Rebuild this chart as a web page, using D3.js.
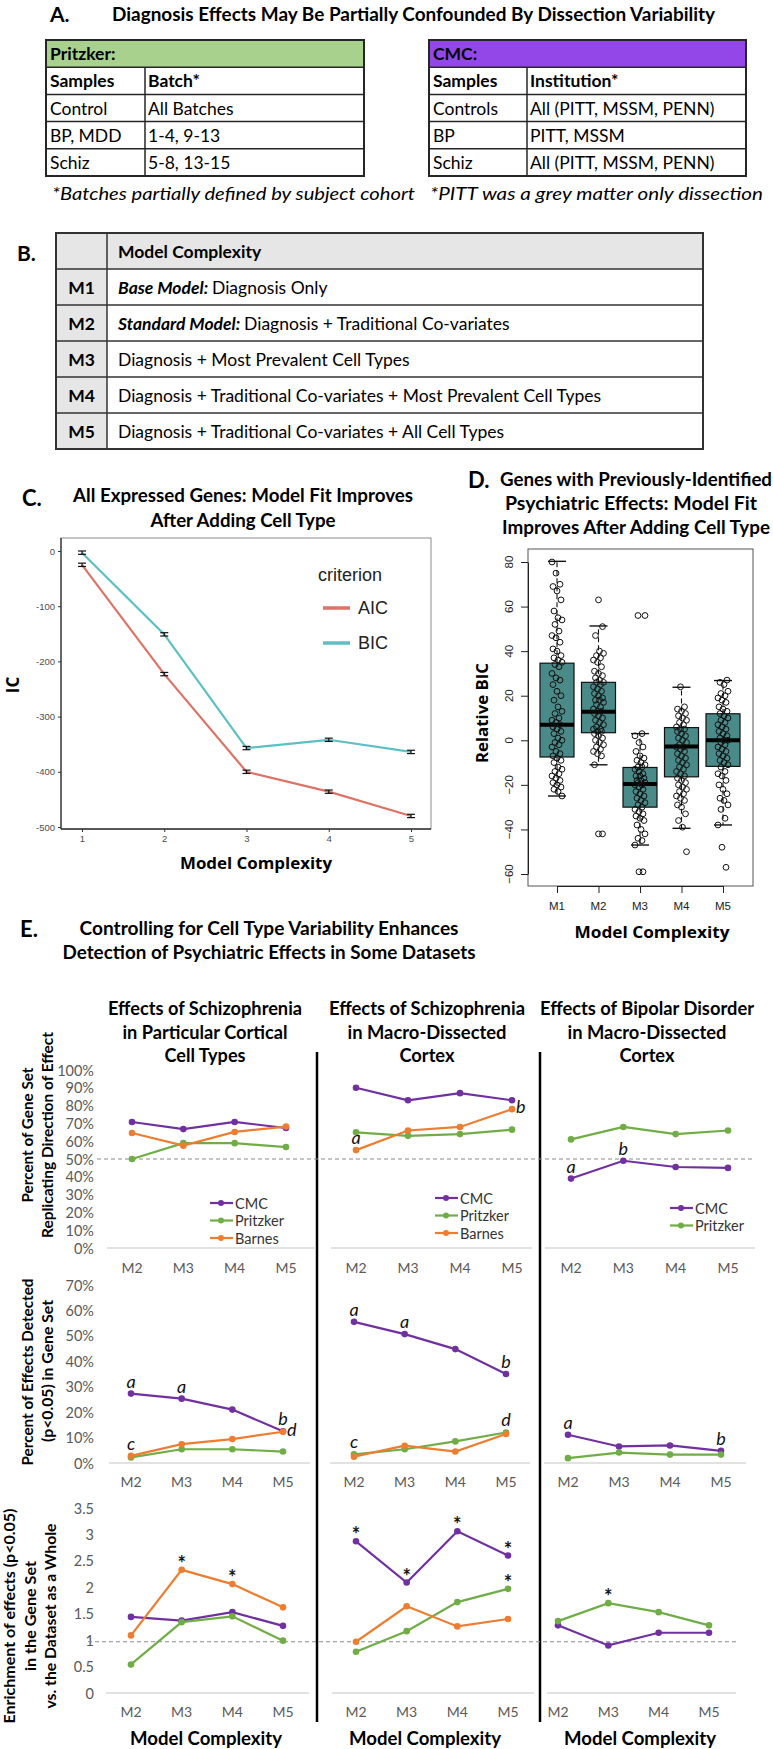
<!DOCTYPE html>
<html><head><meta charset="utf-8">
<script src="https://cdn.jsdelivr.net/npm/d3@7"></script>
<style>body{margin:0;background:#fff}svg{display:block}</style>
</head><body>
<script>
// ---------------- DATA ----------------
// Panel A
const pritzkerTitle = "Pritzker:";
const pritzkerCols = ["Samples", "Batch*"];
const pritzkerRows = [["Control", "All Batches"], ["BP, MDD", "1-4, 9-13"], ["Schiz", "5-8, 13-15"]];
const pritzkerNote = "*Batches partially defined by subject cohort";
const cmcTitle = "CMC:";
const cmcCols = ["Samples", "Institution*"];
const cmcRows = [["Controls", "All (PITT, MSSM, PENN)"], ["BP", "PITT, MSSM"], ["Schiz", "All (PITT, MSSM, PENN)"]];
const cmcNote = "*PITT was a grey matter only dissection";
// Panel B
const modelIds = ["M1", "M2", "M3", "M4", "M5"];
const modelPrefix = ["Base Model:", "Standard Model:", "", "", ""];
const modelDesc = ["Diagnosis Only", "Diagnosis + Traditional Co-variates", "Diagnosis + Most Prevalent Cell Types",
  "Diagnosis + Traditional Co-variates + Most Prevalent Cell Types", "Diagnosis + Traditional Co-variates + All Cell Types"];
// Panel C
const complexity = [1, 2, 3, 4, 5];
const aicValues = [-25, -223, -400, -436, -480];
const bicValues = [-3, -151, -357, -342, -364];
const icErr = [3, 3, 3, 3, 3];
const cYTicks = [0, -100, -200, -300, -400, -500];
// Panel D
const boxModels = ["M1", "M2", "M3", "M4", "M5"];
const boxLow = [-25, -11, -47, -39.5, -38];
const boxQ1 = [-7.5, 3.4, -30, -16.4, -11.7];
const boxMed = [7, 12.8, -19.6, -2.8, 0];
const boxQ3 = [34.6, 26, -12.2, 5.7, 11.9];
const boxHigh = [80.3, 51.3, 3, 23.8, 26.8];
const dYTicks = [-60, -40, -20, 0, 20, 40, 60, 80];
const pointsM1 = [80, 75, 70, 69, 67, 63, 58, 55, 54, 52, 49, 47, 46, 44, 41, 40, 38, 37, 36, 35, 34, 33, 30, 28, 27, 25, 22, 20, 18, 15, 13, 12, 10, 9, 8, 7, 6, 5, 4, 3, 1, 0, -1, -2, -3, -5, -6, -7, -8, -9, -10, -12, -13, -14, -15, -16, -17, -18, -19, -20, -21, -22, -23, -25];
const pointsM2 = [63, 51, 47, 40, 39, 38, 37, 36, 35, 33, 31, 30, 29, 28, 27, 26, 26, 25, 24, 23, 22, 21, 20, 19, 18, 18, 17, 16, 15, 14, 13, 13, 12, 11, 10, 9, 8, 7, 6, 5, 5, 4, 4, 3, 2, 1, 0, -1, -2, -3, -4, -5, -6, -7, -11, -42, -42];
const pointsM3 = [56, 56, 3, 2, -1, -3, -5, -7, -8, -9, -10, -11, -12, -12, -13, -14, -15, -16, -16, -17, -18, -18, -19, -19, -20, -20, -21, -22, -23, -24, -25, -26, -27, -28, -29, -30, -31, -32, -33, -34, -35, -36, -38, -40, -42, -44, -45, -47, -59, -59];
const pointsM4 = [24, 15, 14, 13, 12, 11, 10, 9, 8, 7, 6, 5, 5, 4, 3, 2, 1, 0, -1, -2, -3, -3, -4, -5, -6, -7, -8, -9, -10, -11, -12, -13, -14, -15, -16, -17, -18, -19, -20, -21, -22, -23, -24, -25, -26, -27, -29, -30, -33, -36, -39, -50];
const pointsM5 = [27, 26, 25, 22, 21, 20, 19, 18, 17, 15, 14, 13, 12, 11, 10, 9, 8, 7, 6, 5, 4, 3, 2, 1, 0, 0, -1, -2, -3, -4, -5, -6, -7, -8, -9, -10, -11, -12, -14, -15, -16, -18, -20, -22, -24, -26, -27, -29, -31, -35, -38, -48, -57];
// Panel E
const eModels = ["M2", "M3", "M4", "M5"];
const eColumnTitles = [["Effects of Schizophrenia", "in Particular Cortical", "Cell Types"],
  ["Effects of Schizophrenia", "in Macro-Dissected", "Cortex"],
  ["Effects of Bipolar Disorder", "in Macro-Dissected", "Cortex"]];
const seriesNames = ["CMC", "Pritzker", "Barnes"];
// row 1: percent of gene set replicating direction of effect (%)
const repCellCMC = [70.8, 66.8, 70.8, 67.4];
const repCellPritzker = [50, 58.9, 58.9, 56.7];
const repCellBarnes = [64.6, 57.5, 65.2, 68.2];
const repMacroCMC = [90, 83, 87, 83];
const repMacroPritzker = [65, 63, 64, 66.5];
const repMacroBarnes = [55, 66, 68, 78];
const repBipCMC = [39, 49, 45.5, 45];
const repBipPritzker = [61, 68, 64, 66];
// row 2: percent of effects detected (p<0.05) in gene set (%)
const detCellCMC = [27.3, 25.3, 21, 12.5];
const detCellPritzker = [2.2, 5.4, 5.4, 4.5];
const detCellBarnes = [2.8, 7.4, 9.4, 12.3];
const detMacroCMC = [55.5, 50.7, 44.8, 35];
const detMacroPritzker = [3.4, 5.4, 8.5, 12];
const detMacroBarnes = [2.5, 6.8, 4.5, 11.4];
const detBipCMC = [11.1, 6.5, 6.9, 4.8];
const detBipPritzker = [1.9, 4.1, 3.3, 3.3];
// row 3: enrichment of effects (p<0.05) in gene set vs dataset
const enrCellCMC = [1.44, 1.37, 1.53, 1.27];
const enrCellPritzker = [0.54, 1.34, 1.45, 0.99];
const enrCellBarnes = [1.09, 2.33, 2.06, 1.62];
const enrMacroCMC = [2.87, 2.09, 3.06, 2.6];
const enrMacroPritzker = [0.78, 1.17, 1.72, 1.97];
const enrMacroBarnes = [0.97, 1.64, 1.26, 1.4];
const enrBipCMC = [1.28, 0.9, 1.14, 1.14];
const enrBipPritzker = [1.36, 1.7, 1.53, 1.28];
const repTicks = [0, 10, 20, 30, 40, 50, 60, 70, 80, 90, 100];
const detTicks = [0, 10, 20, 30, 40, 50, 60, 70];
const enrTicks = [0, 0.5, 1, 1.5, 2, 2.5, 3, 3.5];
const eAnnotations = [
  {row: 0, col: 1, s: "Barnes", m: 0, label: "a", pos: "above"},
  {row: 0, col: 1, s: "Barnes", m: 3, label: "b", pos: "right"},
  {row: 0, col: 2, s: "CMC", m: 0, label: "a", pos: "above"},
  {row: 0, col: 2, s: "CMC", m: 1, label: "b", pos: "above"},
  {row: 1, col: 0, s: "CMC", m: 0, label: "a", pos: "above"},
  {row: 1, col: 0, s: "CMC", m: 1, label: "a", pos: "above"},
  {row: 1, col: 0, s: "CMC", m: 3, label: "b", pos: "above"},
  {row: 1, col: 0, s: "Barnes", m: 3, label: "d", pos: "right"},
  {row: 1, col: 0, s: "Barnes", m: 0, label: "c", pos: "above"},
  {row: 1, col: 1, s: "CMC", m: 0, label: "a", pos: "above"},
  {row: 1, col: 1, s: "CMC", m: 1, label: "a", pos: "above"},
  {row: 1, col: 1, s: "CMC", m: 3, label: "b", pos: "above"},
  {row: 1, col: 1, s: "Pritzker", m: 3, label: "d", pos: "above"},
  {row: 1, col: 1, s: "Pritzker", m: 0, label: "c", pos: "above"},
  {row: 1, col: 2, s: "CMC", m: 0, label: "a", pos: "above"},
  {row: 1, col: 2, s: "CMC", m: 3, label: "b", pos: "above"},
  {row: 2, col: 0, s: "Barnes", m: 1, label: "*", pos: "star"},
  {row: 2, col: 0, s: "Barnes", m: 2, label: "*", pos: "star"},
  {row: 2, col: 1, s: "CMC", m: 0, label: "*", pos: "star"},
  {row: 2, col: 1, s: "CMC", m: 1, label: "*", pos: "star"},
  {row: 2, col: 1, s: "CMC", m: 2, label: "*", pos: "star"},
  {row: 2, col: 1, s: "CMC", m: 3, label: "*", pos: "star"},
  {row: 2, col: 1, s: "Pritzker", m: 3, label: "*", pos: "star"},
  {row: 2, col: 2, s: "Pritzker", m: 1, label: "*", pos: "star"}
];

// ---------------- DRAWING ----------------
const W = 773, H = 1749;
const CAL = "Lato, 'Open Sans', sans-serif";
const OPS = "'Open Sans', Lato, sans-serif";
const ARI = "'Liberation Sans', Arial, sans-serif";
const svg = d3.select("body").append("svg").attr("width", W).attr("height", H);
svg.append("rect").attr("width", W).attr("height", H).attr("fill", "#fff");

function txt(g, x, y, s, o = {}) {
  const t = g.append("text").attr("x", x).attr("y", y).text(s)
    .attr("font-family", o.family || CAL)
    .attr("font-size", o.size || 16)
    .attr("font-weight", o.weight || "normal")
    .attr("font-style", o.style || "normal")
    .attr("text-anchor", o.anchor || "start")
    .attr("fill", o.fill || "#000");
  if (o.baseline) t.attr("dominant-baseline", o.baseline);
  if (o.len) t.attr("textLength", o.len).attr("lengthAdjust", "spacingAndGlyphs");
  if (o.rotate) t.attr("transform", `rotate(${o.rotate},${x},${y})`);
  return t;
}
function hline(g, x1, x2, y, stroke, w) {
  return g.append("line").attr("x1", x1).attr("x2", x2).attr("y1", y).attr("y2", y).attr("stroke", stroke).attr("stroke-width", w);
}
function vline(g, x, y1, y2, stroke, w) {
  return g.append("line").attr("x1", x).attr("x2", x).attr("y1", y1).attr("y2", y2).attr("stroke", stroke).attr("stroke-width", w);
}

// ===== Panel A =====
const gA = svg.append("g");
txt(gA, 50, 13, "A.", {size: 21, weight: "bold", baseline: "central"});
txt(gA, 112, 13, "Diagnosis Effects May Be Partially Confounded By Dissection Variability", {size: 19, weight: "bold", baseline: "central", len: 603});

function drawATable(x0, x1, xs, title, fill, cols, rows, note, noteX, noteLen) {
  const g = svg.append("g");
  const y = d3.scaleBand().domain(d3.range(rows.length + 2)).range([40, 176]);
  g.append("rect").attr("x", x0).attr("y", y(0)).attr("width", x1 - x0).attr("height", y.bandwidth()).attr("fill", fill);
  d3.range(1, rows.length + 2).forEach(i => hline(g, x0, x1, y(i), "#262626", 1.5));
  vline(g, xs, y(1), y.range()[1], "#262626", 1.5);
  g.append("rect").attr("x", x0).attr("y", 40).attr("width", x1 - x0).attr("height", 136).attr("fill", "none").attr("stroke", "#262626").attr("stroke-width", 2);
  txt(g, x0 + 4, y(0) + y.bandwidth() / 2, title, {size: 17.5, weight: "bold", baseline: "central"});
  [cols, ...rows].forEach((r, i) => {
    const cy = y(i + 1) + y.bandwidth() / 2;
    txt(g, x0 + 4, cy, r[0], {size: 17.5, weight: i === 0 ? "bold" : "normal", baseline: "central"});
    txt(g, xs + 3, cy, r[1], {size: 17.5, weight: i === 0 ? "bold" : "normal", baseline: "central"});
  });
  txt(g, noteX, 193, note, {size: 17.5, style: "italic", baseline: "central", len: noteLen});
}
drawATable(46, 364, 145, pritzkerTitle, "#a9d18e", pritzkerCols, pritzkerRows, pritzkerNote, 52, 363);
drawATable(429, 746, 527, cmcTitle, "#9347e8", cmcCols, cmcRows, cmcNote, 430, 333);

// ===== Panel B =====
const gB = svg.append("g");
txt(gB, 17, 252, "B.", {size: 21, weight: "bold", baseline: "central"});
const bY = d3.scaleBand().domain(d3.range(6)).range([233, 449]);
const bX0 = 56, bX1 = 703, bXs = 107;
gB.append("rect").attr("x", bX0).attr("y", bY(0)).attr("width", bX1 - bX0).attr("height", bY.bandwidth()).attr("fill", "#e7e6e6");
modelIds.forEach((m, i) => gB.append("rect").attr("x", bX0).attr("y", bY(i + 1)).attr("width", bXs - bX0).attr("height", bY.bandwidth()).attr("fill", "#e7e6e6"));
d3.range(1, 6).forEach(i => hline(gB, bX0, bX1, bY(i), "#333", 1.5));
vline(gB, bXs, 233, 449, "#333", 1.5);
gB.append("rect").attr("x", bX0).attr("y", 233).attr("width", bX1 - bX0).attr("height", 216).attr("fill", "none").attr("stroke", "#333").attr("stroke-width", 2);
txt(gB, 118, bY(0) + bY.bandwidth() / 2, "Model Complexity", {size: 17.5, weight: "bold", baseline: "central"});
modelIds.forEach((m, i) => {
  const cy = bY(i + 1) + bY.bandwidth() / 2;
  txt(gB, (bX0 + bXs) / 2, cy, m, {size: 17.5, weight: "bold", anchor: "middle", baseline: "central"});
  const t = gB.append("text").attr("x", 118).attr("y", cy).attr("dominant-baseline", "central")
    .attr("font-family", CAL).attr("font-size", 17.5);
  if (modelPrefix[i]) t.append("tspan").attr("font-weight", "bold").attr("font-style", "italic").text(modelPrefix[i] + " ");
  t.append("tspan").text(modelDesc[i]);
});

// ===== Panel C =====
const gC = svg.append("g");
txt(gC, 22, 497, "C.", {size: 22, weight: "bold", baseline: "central"});
txt(gC, 243, 495, "All Expressed Genes: Model Fit Improves", {size: 18, weight: "bold", anchor: "middle", baseline: "central", len: 340});
txt(gC, 243, 520, "After Adding Cell Type", {size: 18, weight: "bold", anchor: "middle", baseline: "central", len: 185});
const cx = d3.scaleLinear().domain([1, 5]).range([82, 411]);
const cy = d3.scaleLinear().domain([-500, 0]).range([827, 551]);
gC.append("rect").attr("x", 61).attr("y", 538).attr("width", 370).attr("height", 291).attr("fill", "#fff").attr("stroke", "#8c8c8c").attr("stroke-width", 1);
vline(gC, 61, 538, 829, "#333", 1.3);
hline(gC, 61, 431, 829, "#333", 1.3);
const cAxL = gC.append("g").attr("transform", "translate(61,0)").call(d3.axisLeft(cy).tickValues(cYTicks).tickSize(3).tickFormat(d => String(d)));
const cAxB = gC.append("g").attr("transform", "translate(0,829)").call(d3.axisBottom(cx).tickValues(complexity).tickSize(3).tickFormat(d => String(d)));
[cAxL, cAxB].forEach(a => {
  a.select(".domain").remove();
  a.selectAll("line").attr("stroke", "#333");
  a.selectAll("text").attr("font-family", ARI).attr("font-size", 9.5).attr("fill", "#4d4d4d");
});
txt(gC, 12, 685, "IC", {family: OPS, size: 17, weight: "bold", anchor: "middle", baseline: "central", rotate: -90});
txt(gC, 256, 863, "Model Complexity", {family: OPS, size: 16, weight: "bold", anchor: "middle", baseline: "central", len: 152});
const cLine = d3.line().x((d, i) => cx(complexity[i])).y(d => cy(d));
const cSeries = [{name: "AIC", values: aicValues, color: "#dd7366"}, {name: "BIC", values: bicValues, color: "#5cbfc3"}];
cSeries.forEach(s => {
  gC.append("path").datum(s.values).attr("d", cLine).attr("fill", "none").attr("stroke", s.color).attr("stroke-width", 2.2);
});
cSeries.forEach(s => {
  s.values.forEach((v, i) => {
    const x = cx(complexity[i]);
    vline(gC, x, cy(v - icErr[i]), cy(v + icErr[i]), "#111", 1.2);
    hline(gC, x - 4, x + 4, cy(v - icErr[i]), "#111", 1.2);
    hline(gC, x - 4, x + 4, cy(v + icErr[i]), "#111", 1.2);
  });
});
txt(gC, 318, 575, "criterion", {family: ARI, size: 18, fill: "#222", baseline: "central"});
cSeries.forEach((s, i) => {
  const ly = 608 + i * 35;
  hline(gC, 323, 350, ly, s.color, 3.5);
  txt(gC, 358, ly, s.name, {family: ARI, size: 18, fill: "#222", baseline: "central"});
});

// ===== Panel D =====
const gD = svg.append("g");
txt(gD, 468, 479, "D.", {size: 22, weight: "bold", baseline: "central"});
txt(gD, 636, 479, "Genes with Previously-Identified", {size: 18, weight: "bold", anchor: "middle", baseline: "central", len: 272});
txt(gD, 631, 503, "Psychiatric Effects: Model Fit", {size: 18, weight: "bold", anchor: "middle", baseline: "central", len: 252});
txt(gD, 636, 527, "Improves After Adding Cell Type", {size: 18, weight: "bold", anchor: "middle", baseline: "central", len: 268});
const dx = d3.scalePoint().domain(boxModels).range([557, 723]);
const dy = d3.scaleLinear().domain([-60, 80]).range([874, 562]);
gD.append("rect").attr("x", 528).attr("y", 549).attr("width", 225).attr("height", 337).attr("fill", "none").attr("stroke", "#555").attr("stroke-width", 1);
const dAxL = gD.append("g").attr("transform", "translate(528,0)").call(d3.axisLeft(dy).tickValues(dYTicks).tickSize(7).tickSizeOuter(0).tickFormat(""));
const dAxB = gD.append("g").attr("transform", "translate(0,886)").call(d3.axisBottom(dx).tickSize(7).tickSizeOuter(0).tickFormat(""));
[dAxL, dAxB].forEach(a => { a.selectAll("line,path").attr("stroke", "#222"); });
dYTicks.forEach(t => txt(gD, 509, dy(t), String(t).replace("-", "\u2212"), {family: ARI, size: 11.5, anchor: "middle", baseline: "central", rotate: -90, fill: "#222"}));
boxModels.forEach(m => txt(gD, dx(m), 906, m, {family: ARI, size: 11.5, anchor: "middle", baseline: "central", fill: "#222"}));
txt(gD, 482, 713, "Relative BIC", {family: OPS, size: 16, weight: "bold", anchor: "middle", baseline: "central", rotate: -90, len: 100});
txt(gD, 652, 932, "Model Complexity", {family: OPS, size: 16, weight: "bold", anchor: "middle", baseline: "central", len: 155});
const boxW = 34;
boxModels.forEach((m, i) => {
  const x = dx(m);
  gD.append("line").attr("x1", x).attr("x2", x).attr("y1", dy(boxQ3[i])).attr("y2", dy(boxHigh[i])).attr("stroke", "#111").attr("stroke-width", 1.1).attr("stroke-dasharray", "5,3");
  gD.append("line").attr("x1", x).attr("x2", x).attr("y1", dy(boxQ1[i])).attr("y2", dy(boxLow[i])).attr("stroke", "#111").attr("stroke-width", 1.1).attr("stroke-dasharray", "5,3");
  hline(gD, x - 9, x + 9, dy(boxHigh[i]), "#111", 1.4);
  hline(gD, x - 9, x + 9, dy(boxLow[i]), "#111", 1.4);
  gD.append("rect").attr("x", x - boxW / 2).attr("y", dy(boxQ3[i])).attr("width", boxW).attr("height", dy(boxQ1[i]) - dy(boxQ3[i]))
    .attr("fill", "#4a8a89").attr("stroke", "#111").attr("stroke-width", 1.2);
  hline(gD, x - boxW / 2, x + boxW / 2, dy(boxMed[i]), "#000", 4);
});
[pointsM1, pointsM2, pointsM3, pointsM4, pointsM5].forEach((pts, k) => {
  const x = dx(boxModels[k]);
  gD.selectAll(null).data(pts).enter().append("circle")
    .attr("cx", (d, i) => x + (((i * 37 + k * 5) % 11) - 5) * 1.0)
    .attr("cy", d => dy(d)).attr("r", 2.9)
    .attr("fill", "none").attr("stroke", "#111").attr("stroke-width", 1);
});

// ===== Panel E =====
const gE = svg.append("g");
txt(gE, 20, 928, "E.", {size: 22, weight: "bold", baseline: "central"});
txt(gE, 269, 928, "Controlling for Cell Type Variability Enhances", {size: 18, weight: "bold", anchor: "middle", baseline: "central", len: 379});
txt(gE, 269, 952, "Detection of Psychiatric Effects in Some Datasets", {size: 18, weight: "bold", anchor: "middle", baseline: "central", len: 413});
const colCenters = [205, 427, 647];
const colTitleLens = [[194, 165, 81], [196, 159, 55], [214, 159, 55]];
eColumnTitles.forEach((lines, c) => lines.forEach((l, j) =>
  txt(gE, colCenters[c], 1008 + j * 23.5, l, {size: 18, weight: "bold", anchor: "middle", baseline: "central", len: colTitleLens[c][j]})));
vline(gE, 317, 1052, 1722, "#000", 2.5);
vline(gE, 540, 1052, 1722, "#000", 2.5);

const seriesColor = {CMC: "#7030a0", Pritzker: "#70ad47", Barnes: "#ed7d31"};
const eData = [
  [[repCellCMC, repCellPritzker, repCellBarnes], [repMacroCMC, repMacroPritzker, repMacroBarnes], [repBipCMC, repBipPritzker]],
  [[detCellCMC, detCellPritzker, detCellBarnes], [detMacroCMC, detMacroPritzker, detMacroBarnes], [detBipCMC, detBipPritzker]],
  [[enrCellCMC, enrCellPritzker, enrCellBarnes], [enrMacroCMC, enrMacroPritzker, enrMacroBarnes], [enrBipCMC, enrBipPritzker]]
];
const rowDefs = [
  {domain: [0, 100], range: [1248, 1070], ticks: repTicks, fmt: d => d + "%", xLab: 1267,
    base: [[107, 316], [331, 532], [545, 755]], xr: [[132, 286], [356, 512], [571, 728]], dash: 50, dashX: [97, 752]},
  {domain: [0, 70], range: [1463, 1285], ticks: detTicks, fmt: d => d + "%", xLab: 1481,
    base: [[109, 310], [330, 530], [544, 746]], xr: [[131, 283], [354, 506], [568, 721]]},
  {domain: [0, 3.5], range: [1693, 1508], ticks: enrTicks, fmt: d => String(d), xLab: 1711,
    base: [[106, 309], [332, 534], [547, 736]], xr: [[131, 283], [356, 508], [558, 709]], dash: 0.97, dashX: [88, 737]}
];
const legendDefs = [
  {row: 0, col: 0, x: 210, y: 1203},
  {row: 0, col: 1, x: 435, y: 1198},
  {row: 0, col: 2, x: 670, y: 1208}
];
const rowLabels = [
  [{t: "Percent of Gene Set", x: 27, y: 1135, len: 135}, {t: "Replicating Direction of Effect", x: 47, y: 1135, len: 206}],
  [{t: "Percent of Effects Detected", x: 27, y: 1372, len: 187}, {t: "(p<0.05) in Gene Set", x: 47, y: 1371, len: 142}],
  [{t: "Enrichment of  effects (p<0.05)", x: 9, y: 1616, len: 215}, {t: "in the Gene Set", x: 30, y: 1616, len: 110}, {t: "vs. the Dataset as a Whole", x: 50, y: 1616, len: 185}]
];
const scalesE = [];
rowDefs.forEach((rd, r) => {
  const y = d3.scaleLinear().domain(rd.domain).range(rd.range);
  scalesE[r] = {y, x: []};
  rd.ticks.forEach(t => txt(gE, 94, y(t), rd.fmt(t), {size: 14.5, anchor: "end", baseline: "central", fill: "#595959"}));
  rowLabels[r].forEach(l => txt(gE, l.x, l.y, l.t, {size: 14.5, weight: "bold", anchor: "middle", baseline: "central", rotate: -90, len: l.len}));
  if (rd.dash !== undefined) {
    gE.append("line").attr("x1", rd.dashX[0]).attr("x2", rd.dashX[1]).attr("y1", y(rd.dash)).attr("y2", y(rd.dash))
      .attr("stroke", "#8c8c8c").attr("stroke-width", 1.1).attr("stroke-dasharray", "4,3");
  }
  rd.base.forEach((b, c) => {
    hline(gE, b[0], b[1], y(0), "#d9d9d9", 1.3);
    const x = d3.scalePoint().domain(eModels).range(rd.xr[c]);
    scalesE[r].x[c] = x;
    eModels.forEach(m => txt(gE, x(m), rd.xLab, m, {size: 14, anchor: "middle", baseline: "central", fill: "#595959"}));
    eData[r][c].forEach((vals, si) => {
      const color = seriesColor[seriesNames[si]];
      const line = d3.line().x((d, i) => x(eModels[i])).y(d => y(d));
      gE.append("path").datum(vals).attr("d", line).attr("fill", "none").attr("stroke", color).attr("stroke-width", 2.2);
      gE.selectAll(null).data(vals).enter().append("circle")
        .attr("cx", (d, i) => x(eModels[i])).attr("cy", d => y(d)).attr("r", 3.3).attr("fill", color);
    });
  });
});
legendDefs.forEach(ld => {
  eData[ld.row][ld.col].forEach((vals, si) => {
    const ly = ld.y + si * 17.5;
    const color = seriesColor[seriesNames[si]];
    hline(gE, ld.x, ld.x + 23, ly, color, 2.2);
    gE.append("circle").attr("cx", ld.x + 11).attr("cy", ly).attr("r", 3).attr("fill", color);
    txt(gE, ld.x + 25, ly, seriesNames[si], {size: 14.5, baseline: "central", fill: "#333"});
  });
});
eAnnotations.forEach(a => {
  const sc = scalesE[a.row];
  const si = seriesNames.indexOf(a.s);
  const px = sc.x[a.col](eModels[a.m]);
  const py = sc.y(eData[a.row][a.col][si][a.m]);
  if (a.pos === "star") txt(gE, px, py + 1, "*", {size: 20, weight: "bold", anchor: "middle", fill: "#111"});
  else if (a.pos === "right") txt(gE, px + 4, py + 4, a.label, {size: 18, style: "italic", fill: "#111"});
  else txt(gE, px, py - 6, a.label, {size: 18, style: "italic", anchor: "middle", fill: "#111"});
});
[206, 425, 640].forEach(x => txt(gE, x, 1738, "Model Complexity", {size: 18, weight: "bold", anchor: "middle", baseline: "central", len: 152}));
</script>
</body></html>
